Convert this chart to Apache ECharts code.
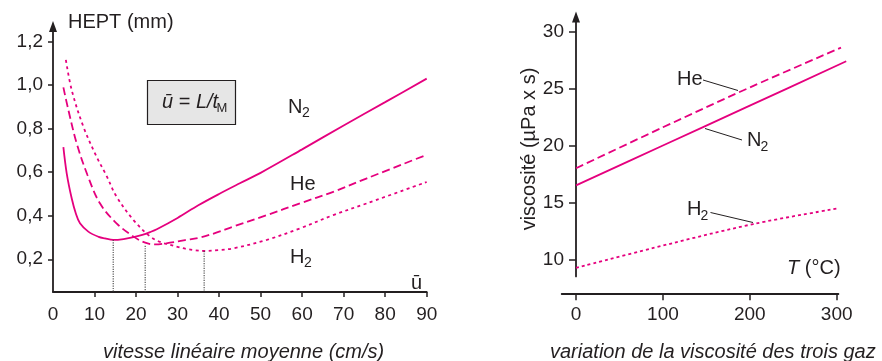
<!DOCTYPE html>
<html><head><meta charset="utf-8">
<script src="https://cdn.jsdelivr.net/npm/echarts@6/dist/echarts.min.js"></script>
<style>html,body{margin:0;padding:0;background:#fff}#c{width:882px;height:361px}</style>
</head><body><div id="c"></div>
<script>
const FONT = '"Liberation Sans", Arial, Helvetica, sans-serif';
const MAG = '#e5007e';
const AX = '#231f20';

// ---- Left chart: HEPT (mm) vs vitesse linéaire moyenne (cm/s)
const hTicks = [0.2, 0.4, 0.6, 0.8, 1.0, 1.2];
const uTicks = [10, 20, 30, 40, 50, 60, 70, 80, 90];
const n2U = [2.5, 3.3, 4.5, 5.5, 6.5, 8.5, 11, 12.5, 14.5, 17, 19.4, 21.5, 23.4, 25, 30, 35, 40, 45, 50, 60, 70, 80, 90];
const n2H = [0.715, 0.595, 0.48, 0.41, 0.365, 0.327, 0.303, 0.296, 0.289, 0.293, 0.302, 0.312, 0.325, 0.338, 0.39, 0.448, 0.5, 0.549, 0.597, 0.705, 0.815, 0.922, 1.03];
const heU = [2.5, 3.7, 5.7, 8.3, 11.3, 15.3, 19.4, 22.2, 24.6, 28.2, 31.8, 35.4, 39, 43.4, 51.5, 59.5, 67.5, 75.6, 90];
const heH = [0.99, 0.886, 0.733, 0.587, 0.457, 0.365, 0.304, 0.276, 0.268, 0.276, 0.288, 0.3, 0.32, 0.35, 0.403, 0.457, 0.51, 0.572, 0.68];
const h2U = [3.1, 4.5, 7.3, 10.5, 12.8, 15.3, 19.4, 23.4, 26, 28.2, 30.2, 32.2, 34, 36.4, 39.8, 43.4, 51.5, 59.5, 67.5, 75.6, 90];
const h2H = [1.116, 0.978, 0.81, 0.671, 0.587, 0.488, 0.38, 0.304, 0.278, 0.266, 0.256, 0.247, 0.242, 0.238, 0.242, 0.25, 0.289, 0.342, 0.403, 0.457, 0.555];
const minU = [14.5, 22.2, 36.4];
const minH = [0.289, 0.262, 0.238];

// ---- Right chart: viscosité (µPa x s) vs T (°C)
const tTicks = [0, 100, 200, 300];
const vTicks = [10, 15, 20, 25, 30];
const heT = [0, 100, 200, 305];
const heV = [18.0, 21.6, 25.1, 28.6];
const n2T = [0, 100, 200, 311];
const n2V = [16.5, 20.0, 23.5, 27.4];
const h2T = [0, 89, 204, 302];
const h2V = [9.25, 11.0, 13.1, 14.48];

const zip = (a, b) => a.map((v, i) => [v, b[i]]);

const chart = echarts.init(document.getElementById('c'), null, {renderer: 'canvas'});

const lblStyle = {color: AX, fontFamily: FONT, fontSize: 19};
const axLine = (arrow) => ({
  show: true, onZero: false,
  symbol: arrow ? ['none', 'triangle'] : 'none',
  symbolSize: [8, 11],
  lineStyle: {color: AX, width: 1.8}
});

function curve(name, x, y, data, type) {
  return {
    type: 'line', name, xAxisIndex: x, yAxisIndex: y, data,
    symbol: 'none', smooth: 0.35, clip: false, silent: true,
    lineStyle: {color: MAG, width: 1.8, type}
  };
}

const series = [
  curve('N2', 0, 0, zip(n2U, n2H), 'solid'),
  curve('He', 0, 0, zip(heU, heH), [8, 4]),
  curve('H2', 0, 0, zip(h2U, h2H), [3, 3.5]),
  curve('He-visc', 2, 2, zip(heT, heV), [8, 4]),
  curve('N2-visc', 2, 2, zip(n2T, n2V), 'solid'),
  curve('H2-visc', 2, 2, zip(h2T, h2V), [3, 3])
];
minU.forEach((u, i) => {
  series.push({
    type: 'line', xAxisIndex: 0, yAxisIndex: 0, symbol: 'none', silent: true,
    data: [[u, minH[i]], [u, 0.05]],
    lineStyle: {color: '#444', width: 1.1, type: [1.2, 1.2]}
  });
});

const txt = (left, cy, text, size, extra) => ({
  type: 'text', left, top: cy - size * 0.5,
  style: Object.assign({text, fill: AX, font: `${size}px ${FONT}`}, extra || {})
});

const graphic = [
  txt(68, 22, 'HEPT (mm)', 20),
  {type: 'rect', shape: {x: 147.5, y: 80.5, width: 88, height: 44},
   style: {fill: '#e6e6e6', stroke: AX, lineWidth: 1.2}},
  {type: 'text', left: 162, top: 92, style: {
    text: '{i|ū}{n| = }{i|L/t}',
    rich: {
      i: {fontFamily: FONT, fontSize: 20, fontStyle: 'italic', fill: AX},
      n: {fontFamily: FONT, fontSize: 20, fill: AX}
    }}},
  txt(216.5, 108, 'M', 13),
  txt(288, 107.5, 'N', 20), txt(302, 113.5, '2', 14),
  txt(290, 184, 'He', 20),
  txt(290, 257, 'H', 20), txt(304, 263, '2', 14),
  txt(411, 283, 'ū', 20),
  {type: 'text', left: 103, top: 342, style: {text: 'vitesse linéaire moyenne (cm/s)', fill: AX,
    font: `italic 20px ${FONT}`}},
  {type: 'text', left: 550, top: 342, style: {text: 'variation de la viscosité des trois gaz', fill: AX,
    font: `italic 20px ${FONT}`}},
  {type: 'text', x: 529, y: 149, rotation: Math.PI / 2, style: {
    text: 'viscosité (µPa x s)', fill: AX, font: `20px ${FONT}`, align: 'center', verticalAlign: 'middle'}},
  txt(677, 79, 'He', 20),
  {type: 'line', shape: {x1: 703, y1: 80, x2: 738, y2: 90.5}, style: {stroke: AX, lineWidth: 1}},
  txt(747, 140, 'N', 20), txt(760.5, 147.5, '2', 14),
  {type: 'line', shape: {x1: 705, y1: 128.5, x2: 742, y2: 140}, style: {stroke: AX, lineWidth: 1}},
  txt(687, 209.5, 'H', 20), txt(700.5, 216, '2', 14),
  {type: 'line', shape: {x1: 710.5, y1: 212.5, x2: 753, y2: 222.5}, style: {stroke: AX, lineWidth: 1}},
  {type: 'text', left: 787, top: 258, style: {
    text: '{i|T}{n| (°C)}',
    rich: {
      i: {fontFamily: FONT, fontSize: 20, fontStyle: 'italic', fill: AX},
      n: {fontFamily: FONT, fontSize: 20, fill: AX}
    }}}
];

const hidden = {show: false, axisLine: {show: false}, axisTick: {show: false}, axisLabel: {show: false}, splitLine: {show: false}};

chart.setOption({
  animation: false,
  backgroundColor: '#fff',
  grid: [
    {left: 53, top: 26.4, width: 373.7, height: 265.5},
    {left: 561.7, top: 16.9, width: 276.7, height: 259.5},
    {left: 561.7, top: 16.9, width: 290, height: 259.5}
  ],
  xAxis: [
    {type: 'value', gridIndex: 0, min: 0, max: 90, interval: 10,
     axisLine: axLine(false),
     axisTick: {show: true, customValues: uTicks, length: 5, lineStyle: {color: AX, width: 1.5}},
     axisLabel: Object.assign({margin: 13}, lblStyle),
     splitLine: {show: false}},
    {type: 'value', gridIndex: 1, min: -16.5, max: 302, offset: 16.9,
     axisLine: axLine(false),
     axisTick: {show: true, customValues: tTicks, length: 7, lineStyle: {color: AX, width: 1.5}},
     axisLabel: Object.assign({margin: 12, customValues: tTicks}, lblStyle),
     splitLine: {show: false}},
    Object.assign({type: 'value', gridIndex: 2, min: -16.5, max: -16.5 + 290 * 318.5 / 276.7}, hidden)
  ],
  yAxis: [
    {type: 'value', gridIndex: 0, min: 0.05, max: 1.27,
     axisLine: axLine(true),
     axisTick: {show: true, customValues: hTicks, length: 5, lineStyle: {color: AX, width: 1.5}},
     axisLabel: Object.assign({margin: 10, customValues: hTicks,
       formatter: v => v.toFixed(1).replace('.', ',')}, lblStyle),
     splitLine: {show: false}},
    {type: 'value', gridIndex: 1, min: 8.5, max: 31.3, offset: -14.3,
     axisLine: axLine(true),
     axisTick: {show: true, customValues: vTicks, length: 7, lineStyle: {color: AX, width: 1.5}},
     axisLabel: Object.assign({margin: 12, customValues: vTicks}, lblStyle),
     splitLine: {show: false}},
    Object.assign({type: 'value', gridIndex: 2, min: 8.5, max: 31.3}, hidden)
  ],
  series,
  graphic
});
</script>
</body></html>
